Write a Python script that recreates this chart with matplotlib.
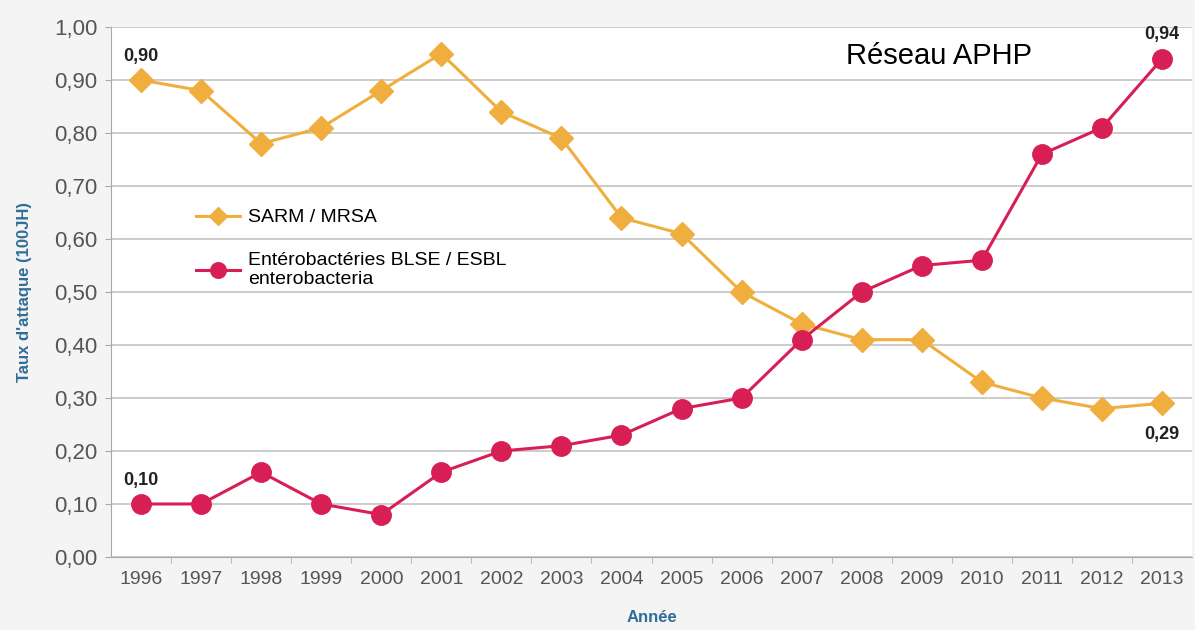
import matplotlib.pyplot as plt

years = ["1996", "1997", "1998", "1999", "2000", "2001", "2002", "2003", "2004",
         "2005", "2006", "2007", "2008", "2009", "2010", "2011", "2012", "2013"]
sarm = [0.90, 0.88, 0.78, 0.81, 0.88, 0.95, 0.84, 0.79, 0.64,
        0.61, 0.50, 0.44, 0.41, 0.41, 0.33, 0.30, 0.28, 0.29]
esbl = [0.10, 0.10, 0.16, 0.10, 0.08, 0.16, 0.20, 0.21, 0.23,
        0.28, 0.30, 0.41, 0.50, 0.55, 0.56, 0.76, 0.81, 0.94]
yticks = [0.0, 0.1, 0.2, 0.3, 0.4, 0.5, 0.6, 0.7, 0.8, 0.9, 1.0]

plt.rcParams['font.family'] = ['Liberation Sans', 'DejaVu Sans']

orange = "#efae3d"
pink = "#d81f55"
blue = "#2f6e96"
grey = "#555555"

fig = plt.figure(figsize=(11.95, 6.3), dpi=100, facecolor="#f4f4f4")
ax = fig.add_axes([0.0929, 0.1159, 0.9046, 0.8412])
ax.set_facecolor("white")

x = list(range(len(years)))
ax.plot(x, sarm, color=orange, lw=2.2, marker="D", ms=12, label="SARM / MRSA", zorder=3)
ax.plot(x, esbl, color=pink, lw=2.2, marker="o", ms=14,
        label="Entérobactéries BLSE / ESBL\nenterobacteria", zorder=4)

ax.set_xlim(-0.5, len(years) - 0.5)
ax.set_ylim(0, 1.0)
ax.set_yticks(yticks)
ax.set_yticklabels([f"{v:.2f}".replace(".", ",") for v in yticks], fontsize=16, color=grey)
ax.set_xticks(x)
ax.set_xticklabels(years, fontsize=14, color=grey)
ax.set_xticks([i + 0.5 for i in x[:-1]], minor=True)
ax.tick_params(axis="x", which="major", length=0, pad=10)
ax.tick_params(axis="x", which="minor", length=4, color="#aaaaaa")
ax.tick_params(axis="y", length=4, color="#aaaaaa", pad=6)

ax.grid(axis="y", color="#c4c4c4", lw=1.2)
ax.set_axisbelow(True)
for s in ["top", "right"]:
    ax.spines[s].set_visible(False)
for s in ["left", "bottom"]:
    ax.spines[s].set_color("#aaaaaa")

ax.set_ylabel("Taux d'attaque (100JH)", fontsize=12, fontweight="bold", color=blue, labelpad=16)
ax.set_xlabel("Année", fontsize=12, fontweight="bold", color=blue, labelpad=16)

ax.annotate("0,90", (0, sarm[0]), xytext=(0, 14), textcoords="offset points",
            ha="center", fontsize=13, fontweight="bold", color="#222222")
ax.annotate("0,10", (0, esbl[0]), xytext=(0, 14), textcoords="offset points",
            ha="center", fontsize=13, fontweight="bold", color="#222222")
ax.annotate("0,94", (17, esbl[-1]), xytext=(0, 14), textcoords="offset points",
            ha="center", fontsize=13, fontweight="bold", color="#222222")
ax.annotate("0,29", (17, sarm[-1]), xytext=(0, -26), textcoords="offset points",
            ha="center", fontsize=13, fontweight="bold", color="#222222")

ax.text(0.68, 0.945, "Réseau APHP", transform=ax.transAxes, fontsize=21, color="black", va="center")

ax.legend(loc="upper left", bbox_to_anchor=(0.062, 0.69), frameon=False, fontsize=14,
          handlelength=2.3, handletextpad=0.4, labelspacing=1.3, markerscale=0.8)

fig.savefig("out.png", dpi=100, facecolor=fig.get_facecolor())
